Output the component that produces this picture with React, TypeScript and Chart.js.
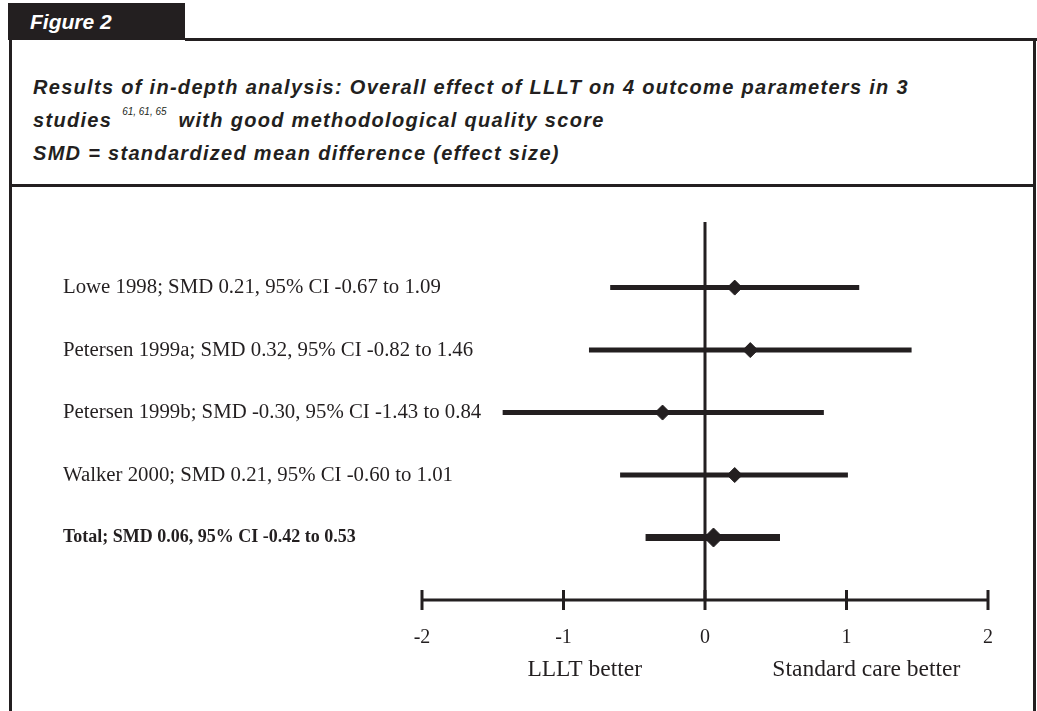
import React, { useEffect, useRef } from 'react';
import { Chart, registerables } from 'chart.js';

Chart.register(...registerables);

// ---- data ----
const studyLabels = [
  'Lowe 1998; SMD 0.21, 95% CI -0.67 to 1.09',
  'Petersen 1999a; SMD 0.32, 95% CI -0.82 to 1.46',
  'Petersen 1999b; SMD -0.30, 95% CI -1.43 to 0.84',
  'Walker 2000; SMD 0.21, 95% CI -0.60 to 1.01',
  'Total; SMD 0.06, 95% CI -0.42 to 0.53',
];
const smdValues = [0.21, 0.32, -0.3, 0.21, 0.06];
const ciLow = [-0.67, -0.82, -1.43, -0.6, -0.42];
const ciHigh = [1.09, 1.46, 0.84, 1.01, 0.53];
const rowPositions = [5, 4, 3, 2, 1];
const xTickValues = [-2, -1, 0, 1, 2];
const sideLabels = ['LLLT better', 'Standard care better'];
const sideLabelPositions = [-0.85, 1.14];
const zeroLineTop = 6.05;

const INK = '#231f20';
const SERIF = '"Liberation Serif", "Times New Roman", serif';
const SANS = '"Liberation Sans", Arial, sans-serif';

function ForestChart() {
  const ref = useRef<HTMLCanvasElement | null>(null);
  useEffect(() => {
    const canvas = ref.current;
    if (!canvas) return;
    const totalIndex = studyLabels.length - 1;
    const ciSets = studyLabels.map((_, i) => ({
      type: 'line' as const,
      data: [
        { x: ciLow[i], y: rowPositions[i] },
        { x: ciHigh[i], y: rowPositions[i] },
      ],
      borderColor: INK,
      borderWidth: i === totalIndex ? 7 : 5,
      pointRadius: 0,
      clip: false as any,
      order: 3,
    }));
    const chart = new Chart(canvas, {
      type: 'line',
      data: {
        datasets: [
          {
            type: 'line',
            data: [
              { x: 0, y: 0 },
              { x: 0, y: zeroLineTop },
            ],
            borderColor: INK,
            borderWidth: 3,
            pointRadius: 0,
            clip: false as any,
            order: 4,
          },
          {
            type: 'line',
            data: [
              { x: xTickValues[0], y: 0 },
              { x: xTickValues[xTickValues.length - 1], y: 0 },
            ],
            borderColor: INK,
            borderWidth: 3,
            pointRadius: 0,
            clip: false as any,
            order: 4,
          },
          {
            type: 'scatter',
            data: xTickValues.map((v) => ({ x: v, y: 0 })),
            pointStyle: 'line',
            rotation: 90,
            pointRadius: 10,
            borderColor: INK,
            borderWidth: 3,
            clip: false as any,
            order: 4,
          },
          ...ciSets,
          {
            type: 'scatter',
            data: smdValues.map((v, i) => ({ x: v, y: rowPositions[i] })),
            pointStyle: 'rectRot',
            pointRadius: (ctx: any) => (ctx.dataIndex === totalIndex ? 9.5 : 7.5),
            backgroundColor: INK,
            borderColor: INK,
            borderWidth: 1,
            clip: false as any,
            order: 1,
          },
        ] as any,
      },
      options: {
        responsive: false,
        animation: false,
        devicePixelRatio: 1,
        layout: { padding: { left: 63, right: 49, top: 222, bottom: 21 } },
        plugins: { legend: { display: false }, tooltip: { enabled: false }, title: { display: false } },
        scales: {
          x: {
            type: 'linear',
            position: 'bottom',
            min: -2,
            max: 2,
            afterBuildTicks: (s: any) => {
              s.ticks = xTickValues.map((v) => ({ value: v }));
            },
            afterFit: (s: any) => {
              s.height = 50;
            },
            grid: { display: false, drawTicks: false },
            border: { display: false },
            ticks: {
              padding: 26,
              maxRotation: 0,
              autoSkip: false,
              color: INK,
              font: { family: SERIF, size: 20 },
              callback: (v: any) => String(v),
            },
          },
          x2: {
            type: 'linear',
            position: 'bottom',
            min: -2,
            max: 2,
            afterBuildTicks: (s: any) => {
              s.ticks = sideLabelPositions.map((v) => ({ value: v }));
            },
            afterFit: (s: any) => {
              s.height = 40;
            },
            grid: { display: false, drawTicks: false },
            border: { display: false },
            ticks: {
              padding: 6,
              maxRotation: 0,
              autoSkip: false,
              color: INK,
              font: { family: SERIF, size: 23.5 },
              callback: (v: any) => sideLabels[sideLabelPositions.indexOf(v)] ?? '',
            },
          },
          y: {
            type: 'linear',
            position: 'left',
            min: 0,
            max: zeroLineTop,
            afterBuildTicks: (s: any) => {
              s.ticks = [...rowPositions].reverse().map((v) => ({ value: v }));
            },
            afterFit: (s: any) => {
              s.width = 359;
            },
            grid: { display: false, drawTicks: false },
            border: { display: false },
            ticks: {
              mirror: true,
              padding: -359,
              autoSkip: false,
              color: INK,
              font: (ctx: any) => {
                const isTotal = ctx.tick && ctx.tick.value === rowPositions[totalIndex];
                return {
                  family: SERIF,
                  size: isTotal ? 18 : 20.8,
                  weight: isTotal ? 'bold' : 'normal',
                };
              },
              callback: (v: any) => studyLabels[rowPositions.indexOf(v)] ?? '',
            },
          },
        },
      } as any,
    });
    return () => chart.destroy();
  }, []);
  return (
    <canvas
      ref={ref}
      width={1037}
      height={711}
      style={{ position: 'absolute', left: 0, top: 0, width: 1037, height: 711 }}
    />
  );
}

export default function App() {
  const titleStyle: React.CSSProperties = {
    position: 'absolute',
    left: 33,
    fontFamily: SANS,
    fontStyle: 'italic',
    fontWeight: 'bold',
    fontSize: 20,
    letterSpacing: '1.3px',
    color: INK,
    whiteSpace: 'nowrap',
    lineHeight: '22px',
  };
  return (
    <div
      style={{
        position: 'fixed',
        left: 0,
        top: 0,
        width: 1037,
        height: 711,
        background: '#ffffff',
        overflow: 'hidden',
      }}
    >
      <div style={{ position: 'absolute', left: 8, top: 3, width: 177, height: 37, background: INK }}>
        <span
          style={{
            position: 'absolute',
            left: 22,
            top: 7,
            color: '#ffffff',
            fontFamily: SANS,
            fontStyle: 'italic',
            fontWeight: 'bold',
            fontSize: 21,
            lineHeight: '24px',
          }}
        >
          Figure 2
        </span>
      </div>
      <div style={{ position: 'absolute', left: 185, top: 38, width: 852, height: 3, background: INK }} />
      <div style={{ position: 'absolute', left: 9, top: 38, width: 3, height: 673, background: INK }} />
      <div style={{ position: 'absolute', left: 1033, top: 38, width: 3, height: 673, background: INK }} />
      <div style={{ position: 'absolute', left: 9, top: 184, width: 1027, height: 3, background: INK }} />
      <div style={{ ...titleStyle, top: 76 }}>
        Results of in-depth analysis: Overall effect of LLLT on 4 outcome parameters in 3
      </div>
      <div style={{ ...titleStyle, top: 109 }}>
        studies
        <span
          style={{
            fontSize: 10,
            fontWeight: 'normal',
            letterSpacing: '0px',
            position: 'relative',
            top: -12,
            marginLeft: 10,
            marginRight: 12,
          }}
        >
          61, 61, 65
        </span>
        with good methodological quality score
      </div>
      <div style={{ ...titleStyle, top: 142 }}>SMD = standardized mean difference (effect size)</div>
      <ForestChart />
    </div>
  );
}
